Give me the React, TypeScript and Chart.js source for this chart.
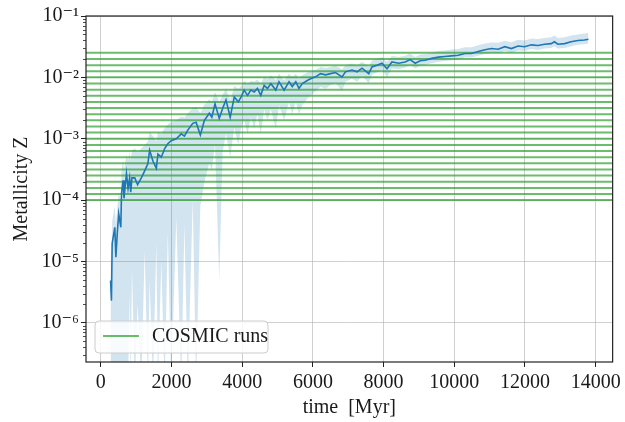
import React, { useEffect, useRef } from 'react';
import { Chart, registerables } from 'chart.js';

Chart.register(...registerables);

// time [Myr]
const timeMyr = [
  275, 300, 320, 395, 425, 470, 505, 565, 585, 630,
  655, 725, 770, 815, 845, 880, 960, 1040, 1145, 1240,
  1330, 1380, 1475, 1570, 1615, 1710, 1805, 1895, 1990, 2135,
  2275, 2365, 2460, 2600, 2695, 2815, 2930, 3070, 3140, 3230,
  3350, 3445, 3540, 3660, 3775, 3890, 3970, 4055, 4150, 4245,
  4340, 4430, 4525, 4620, 4715, 4810, 4950, 5040, 5185, 5325,
  5415, 5515, 5605, 5700, 5840, 5935, 6075, 6215, 6360, 6500,
  6640, 6825, 6920, 7105, 7250, 7390, 7580, 7670, 7810, 7955,
  8095, 8235, 8425, 8610, 8750, 8895, 9035, 9175, 9360, 9550,
  9740, 9925, 10115, 10300, 10490, 10675, 10865, 11050, 11240, 11430,
  11615, 11805, 11990, 12180, 12365, 12555, 12740, 12835, 12930, 13120,
  13305, 13495, 13680, 13795,
];

// mean metallicity
const zMean = [
  4.9e-6, 2.3e-6, 1.95e-5, 3.6e-5, 1.17e-5, 3.2e-5, 6.0e-5, 3.6e-5, 1.29e-4, 2.1e-4,
  1.07e-4, 2.7e-4, 1.55e-4, 2.3e-4, 1.35e-4, 2.3e-4, 2.3e-4, 1.78e-4, 2.3e-4, 3.0e-4,
  3.9e-4, 6.5e-4, 4.3e-4, 3.3e-4, 5.6e-4, 5.0e-4, 6.9e-4, 8.3e-4, 9.3e-4, 1.0e-3,
  1.2e-3, 1.1e-3, 1.38e-3, 1.78e-3, 1.86e-3, 1.15e-3, 2.0e-3, 2.6e-3, 2.24e-3, 3.7e-3,
  2.14e-3, 3.1e-3, 4.3e-3, 2.24e-3, 4.8e-3, 4.0e-3, 4.8e-3, 6.2e-3, 5.1e-3, 6.2e-3,
  5.8e-3, 6.6e-3, 5.1e-3, 7.4e-3, 6.6e-3, 7.9e-3, 6.2e-3, 8.5e-3, 6.2e-3, 8.5e-3,
  7.1e-3, 8.5e-3, 6.6e-3, 7.9e-3, 8.9e-3, 9.5e-3, 1.02e-2, 1.15e-2, 1.1e-2, 1.15e-2,
  1.2e-2, 1.02e-2, 1.23e-2, 1.32e-2, 1.23e-2, 1.41e-2, 1.15e-2, 1.48e-2, 1.58e-2, 1.7e-2,
  1.38e-2, 1.78e-2, 1.7e-2, 1.78e-2, 1.95e-2, 1.7e-2, 1.86e-2, 1.9e-2, 2.04e-2, 2.14e-2,
  2.19e-2, 2.24e-2, 2.29e-2, 2.45e-2, 2.45e-2, 2.63e-2, 2.82e-2, 2.95e-2, 2.88e-2, 3.16e-2,
  2.95e-2, 3.24e-2, 3.16e-2, 3.39e-2, 3.31e-2, 3.47e-2, 3.55e-2, 3.8e-2, 3.47e-2, 3.55e-2,
  3.8e-2, 3.98e-2, 4.07e-2, 4.17e-2,
];

// lower edge of the spread band
const zLow = [
  1e-7, 1e-7, 1e-7, 1e-7, 1e-7, 1e-7, 1e-7, 1e-7, 1e-7, 1e-7,
  1e-7, 1e-7, 1e-7, 3e-6, 1e-7, 8e-6, 1e-7, 2e-6, 1e-7, 1.5e-5,
  1e-7, 5e-6, 1e-7, 2e-5, 1e-7, 1e-5, 1e-7, 3e-5, 1e-7, 5e-5,
  1e-7, 4e-5, 1e-7, 1e-4, 1e-7, 8e-5, 2e-4, 4e-4, 3e-4, 8e-4,
  5e-6, 6e-4, 1.2e-3, 5e-4, 1.5e-3, 8e-4, 1.5e-3, 2e-3, 1.2e-3, 2.2e-3,
  1.5e-3, 2.5e-3, 1.2e-3, 3e-3, 2e-3, 3e-3, 1.5e-3, 3.5e-3, 2e-3, 4e-3,
  2.5e-3, 4e-3, 2.5e-3, 3.5e-3, 4.5e-3, 5e-3, 6e-3, 7e-3, 6.5e-3, 7.5e-3,
  8e-3, 6e-3, 8.5e-3, 9.5e-3, 8.5e-3, 1.05e-2, 8e-3, 1.1e-2, 1.2e-2, 1.3e-2,
  1e-2, 1.4e-2, 1.35e-2, 1.45e-2, 1.6e-2, 1.4e-2, 1.55e-2, 1.6e-2, 1.7e-2, 1.8e-2,
  1.85e-2, 1.9e-2, 1.95e-2, 2.1e-2, 2.1e-2, 2.25e-2, 2.4e-2, 2.5e-2, 2.45e-2, 2.7e-2,
  2.5e-2, 2.75e-2, 2.7e-2, 2.9e-2, 2.8e-2, 2.95e-2, 3.0e-2, 3.2e-2, 2.95e-2, 3.0e-2,
  3.2e-2, 3.4e-2, 3.45e-2, 3.55e-2,
];

// upper edge of the spread band
const zHigh = [
  1.2e-5, 8e-6, 4.5e-5, 8e-5, 4e-5, 8e-5, 1.3e-4, 1.0e-4, 3e-4, 4.5e-4,
  3e-4, 5.5e-4, 4.5e-4, 6e-4, 4.5e-4, 6.5e-4, 7e-4, 6e-4, 7e-4, 8e-4,
  9e-4, 1.3e-3, 1.1e-3, 9e-4, 1.3e-3, 1.2e-3, 1.5e-3, 1.7e-3, 1.9e-3, 2.0e-3,
  2.3e-3, 2.2e-3, 2.6e-3, 3.2e-3, 3.3e-3, 2.6e-3, 3.6e-3, 4.4e-3, 4.0e-3, 5.8e-3,
  4.0e-3, 5.2e-3, 6.6e-3, 4.2e-3, 7.2e-3, 6.5e-3, 7.2e-3, 8.8e-3, 7.8e-3, 8.8e-3,
  8.5e-3, 9.3e-3, 7.8e-3, 1.02e-2, 9.3e-3, 1.08e-2, 9e-3, 1.15e-2, 9e-3, 1.15e-2,
  1.0e-2, 1.15e-2, 9.5e-3, 1.08e-2, 1.2e-2, 1.25e-2, 1.32e-2, 1.48e-2, 1.42e-2, 1.48e-2,
  1.54e-2, 1.35e-2, 1.58e-2, 1.68e-2, 1.58e-2, 1.8e-2, 1.5e-2, 1.88e-2, 2.0e-2, 2.15e-2,
  1.8e-2, 2.25e-2, 2.15e-2, 2.25e-2, 2.45e-2, 2.15e-2, 2.35e-2, 2.4e-2, 2.55e-2, 2.7e-2,
  2.75e-2, 2.85e-2, 2.9e-2, 3.1e-2, 3.1e-2, 3.35e-2, 3.55e-2, 3.7e-2, 3.65e-2, 3.95e-2,
  3.75e-2, 4.1e-2, 4.0e-2, 4.3e-2, 4.2e-2, 4.4e-2, 4.5e-2, 4.8e-2, 4.4e-2, 4.5e-2,
  4.8e-2, 5.0e-2, 5.2e-2, 5.3e-2,
];

// metallicities of the COSMIC runs (horizontal lines)
const cosmicZ = [
  1.0e-4, 1.26e-4, 1.58e-4, 2.0e-4, 2.51e-4, 3.16e-4, 3.98e-4, 5.01e-4, 6.31e-4, 7.94e-4,
  1.0e-3, 1.26e-3, 1.58e-3, 2.0e-3, 2.51e-3, 3.16e-3, 3.98e-3, 5.01e-3, 6.31e-3, 7.94e-3,
  1.0e-2, 1.26e-2, 1.58e-2, 2.0e-2, 2.51e-2,
];

const xTickValues = [0, 2000, 4000, 6000, 8000, 10000, 12000, 14000];
const yDecades = [1e-6, 1e-5, 1e-4, 1e-3, 1e-2, 1e-1];
const yDecadeLabels = ['10⁻⁶', '10⁻⁵', '10⁻⁴', '10⁻³', '10⁻²', '10⁻¹'];
const minorMultipliers = [2, 3, 4, 5, 6, 7, 8, 9];

const X_MIN = -420;
const X_MAX = 14480;
const Y_MIN = 2.3e-7;
const Y_MAX = 0.1;

const FONT = "'Liberation Serif', 'DejaVu Serif', serif";
const TEXT_COLOR = '#1a1a1a';
const BLUE = '#1f77b4';
const GREEN = 'rgba(44,160,44,0.7)';
const GRID = 'rgba(176,176,176,0.6)';

const isDecade = (v: number) => {
  const l = Math.log10(v);
  return Math.abs(l - Math.round(l)) < 1e-6;
};

const yTickValues: number[] = (() => {
  const out: number[] = [];
  [1e-7, ...yDecades].forEach((d) => {
    if (d >= Y_MIN * 0.999 && d <= Y_MAX * 1.001) out.push(d);
    if (d < Y_MAX) {
      minorMultipliers.forEach((m) => {
        const v = d * m;
        if (v >= Y_MIN && v <= Y_MAX) out.push(v);
      });
    }
  });
  return out.sort((a, b) => a - b);
})();

const framePlugin = {
  id: 'frame',
  afterDatasetsDraw(chart: any) {
    const { ctx, chartArea } = chart;
    ctx.save();
    ctx.strokeStyle = '#222';
    ctx.lineWidth = 1.2;
    ctx.strokeRect(chartArea.left, chartArea.top, chartArea.right - chartArea.left, chartArea.bottom - chartArea.top);
    // minor ticks on the log axis (shorter than the major ones)
    const yScale = chart.scales.y;
    ctx.lineWidth = 0.8;
    yScale.ticks.forEach((t: any) => {
      if (isDecade(t.value)) return;
      const py = Math.round(yScale.getPixelForValue(t.value)) + 0.5;
      ctx.beginPath();
      ctx.moveTo(chartArea.left, py);
      ctx.lineTo(chartArea.left - 3, py);
      ctx.stroke();
    });
    ctx.restore();
  },
};

const legendPlugin = {
  id: 'boxLegend',
  afterDatasetsDraw(chart: any) {
    const { ctx, chartArea } = chart;
    const ds = chart.data.datasets.find((d: any) => d.showInLegend);
    if (!ds) return;
    const x = chartArea.left + 9;
    const y = chartArea.bottom - 41;
    const w = 173;
    const h = 32;
    ctx.save();
    ctx.beginPath();
    ctx.roundRect(x, y, w, h, 4);
    ctx.fillStyle = 'rgba(255,255,255,0.85)';
    ctx.fill();
    ctx.strokeStyle = '#cccccc';
    ctx.lineWidth = 1;
    ctx.stroke();
    const cy = y + h / 2;
    ctx.beginPath();
    ctx.moveTo(x + 8, cy - 1);
    ctx.lineTo(x + 44, cy - 1);
    ctx.strokeStyle = ds.borderColor;
    ctx.lineWidth = 2;
    ctx.stroke();
    ctx.fillStyle = TEXT_COLOR;
    ctx.font = `20px ${FONT}`;
    ctx.textBaseline = 'middle';
    ctx.textAlign = 'left';
    ctx.fillText(ds.label, x + 57, cy);
    ctx.restore();
  },
};

export default function App() {
  const canvasRef = useRef<HTMLCanvasElement | null>(null);

  useEffect(() => {
    const canvas = canvasRef.current;
    if (!canvas) return;

    const meanData = timeMyr.map((t, i) => ({ x: t, y: zMean[i] }));
    const lowData = timeMyr.map((t, i) => ({ x: t, y: zLow[i] }));
    const highData = timeMyr.map((t, i) => ({ x: t, y: zHigh[i] }));

    const cosmicSets = cosmicZ.map((z, i) => ({
      label: 'COSMIC runs',
      showInLegend: i === 0,
      data: [
        { x: X_MIN, y: z },
        { x: X_MAX, y: z },
      ],
      borderColor: GREEN,
      borderWidth: 2,
      pointRadius: 0,
      fill: false,
      order: 20,
    }));

    const chart = new Chart(canvas, {
      type: 'line',
      data: {
        datasets: [
          {
            label: 'mean Z',
            data: meanData,
            borderColor: BLUE,
            borderWidth: 1.6,
            pointRadius: 0,
            fill: false,
            order: 0,
          },
          {
            label: 'Z low',
            data: lowData,
            borderWidth: 0,
            borderColor: 'rgba(0,0,0,0)',
            pointRadius: 0,
            fill: false,
            order: 30,
          },
          {
            label: 'Z high',
            data: highData,
            borderWidth: 0,
            borderColor: 'rgba(0,0,0,0)',
            backgroundColor: 'rgba(31,119,180,0.2)',
            pointRadius: 0,
            fill: 1,
            order: 30,
          },
          ...cosmicSets,
        ] as any,
      },
      options: {
        animation: false,
        responsive: false,
        events: [],
        layout: { padding: { left: 0, right: 10, top: 16, bottom: 0 } },
        plugins: {
          legend: { display: false },
          tooltip: { enabled: false },
          filler: { propagate: false },
        },
        scales: {
          x: {
            type: 'linear',
            min: X_MIN,
            max: X_MAX,
            afterBuildTicks: (scale: any) => {
              scale.ticks = xTickValues.map((v) => ({ value: v }));
            },
            afterFit: (scale: any) => {
              scale.height = 60;
            },
            ticks: {
              autoSkip: false,
              maxRotation: 0,
              padding: 4,
              color: TEXT_COLOR,
              font: { family: FONT, size: 20 },
              callback: (v: any) => String(v),
            },
            grid: {
              color: GRID,
              lineWidth: 1,
              tickColor: '#222',
              tickLength: 5,
              tickWidth: 1,
            },
            border: { display: false },
            title: {
              display: true,
              text: 'time  [Myr]',
              color: TEXT_COLOR,
              font: { family: FONT, size: 20 },
              padding: { top: 0, bottom: 2 },
            },
          },
          y: {
            type: 'logarithmic',
            min: Y_MIN,
            max: Y_MAX,
            afterBuildTicks: (scale: any) => {
              scale.ticks = yTickValues.map((v) => ({ value: v }));
            },
            afterFit: (scale: any) => {
              scale.width = 86;
            },
            ticks: {
              autoSkip: false,
              padding: 2,
              color: TEXT_COLOR,
              font: { family: FONT, size: 20 },
              callback: (v: any) => {
                const idx = yDecades.findIndex((d) => Math.abs(d - v) / d < 1e-6);
                return idx >= 0 ? yDecadeLabels[idx] : '';
              },
            },
            grid: {
              color: (ctx: any) => (ctx.tick && isDecade(ctx.tick.value) ? GRID : 'rgba(0,0,0,0)'),
              lineWidth: 1,
              tickColor: (ctx: any) => (ctx.tick && isDecade(ctx.tick.value) ? '#222' : 'rgba(0,0,0,0)'),
              tickLength: 5,
              tickWidth: 1,
            },
            border: { display: false },
            title: {
              display: true,
              text: 'Metallicity Z',
              color: TEXT_COLOR,
              font: { family: FONT, size: 20 },
              padding: { top: 10, bottom: 0 },
            },
          },
        },
      } as any,
      plugins: [framePlugin, legendPlugin],
    });

    return () => chart.destroy();
  }, []);

  return (
    <div style={{ position: 'fixed', left: 0, top: 0, width: 625, height: 422, background: '#fff' }}>
      <canvas ref={canvasRef} width={625} height={422} style={{ display: 'block' }} />
    </div>
  );
}
